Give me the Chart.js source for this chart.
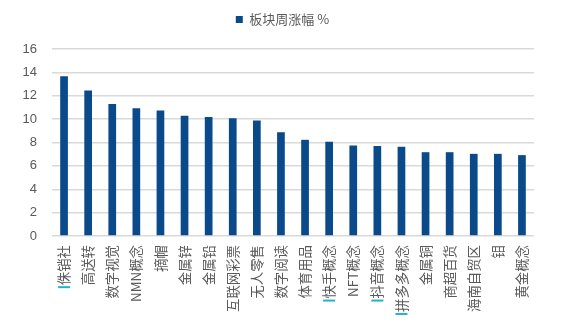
<!DOCTYPE html>
<html>
<head>
<meta charset="utf-8">
<script src="https://cdn.jsdelivr.net/npm/chart.js@4.4.0/dist/chart.umd.min.js"></script>
<style>
html,body{margin:0;padding:0;background:#fff;}
#wrap{width:565px;height:328px;position:relative;}
</style>
</head>
<body>
<div id="wrap"><canvas id="c" width="565" height="328"></canvas></div>
<script>
const categories = ["侏销社","高送转","数字视觉","NMN概念","摘帽","金属锌","金属铅","互联网彩票","无人零售","数字阅读","体育用品","快手概念","NFT概念","抖音概念","拼多多概念","金属铜","商超百货","海南自贸区","钼","黄金概念"];
const weeklyGain = [13.66,12.44,11.30,10.93,10.73,10.28,10.19,10.08,9.88,8.88,8.23,8.06,7.74,7.69,7.63,7.17,7.17,7.03,7.03,6.92];
const seriesName = "板块周涨幅 %";
const yTicks = [0,2,4,6,8,10,12,14,16];
const markedLabels = [0,11,13,14];

const grey = "#595959";
const cjk = "'Noto Sans CJK SC', 'Liberation Sans', sans-serif";
const labelSize = 13.4;

const legendSpace = {
  id: 'legendSpace',
  beforeLayout(chart) {
    const l = chart.legend;
    if (l && !l._patched) {
      const f = l.fit.bind(l);
      l.fit = function () { f(); this.height += 13; };
      l._patched = true;
    }
  },
  afterLayout(chart) {
    const l = chart.legend;
    if (l) {
      const shift = chart.width / 2 - (l.left + l.right) / 2;
      l.left += shift;
      l.right += shift;
    }
  }
};

const cursorMarks = {
  id: 'cursorMarks',
  afterDraw(chart) {
    const ctx = chart.ctx;
    const xs = chart.scales.x;
    ctx.save();
    ctx.font = labelSize + "px " + cjk;
    ctx.strokeStyle = "#1fb3c9";
    ctx.lineWidth = 2;
    markedLabels.forEach(i => {
      const w = ctx.measureText(categories[i]).width;
      const cx = xs.getPixelForValue(i);
      const y = xs.top + 9 + w + 2;
      ctx.beginPath();
      ctx.moveTo(cx - 6, y);
      ctx.lineTo(cx + 6, y);
      ctx.stroke();
    });
    ctx.restore();
  }
};

new Chart(document.getElementById('c'), {
  type: 'bar',
  data: {
    labels: categories,
    datasets: [{
      label: seriesName,
      data: weeklyGain,
      backgroundColor: "#0a4a8a",
      borderWidth: 0,
      categoryPercentage: 1,
      barPercentage: 0.32
    }]
  },
  options: {
    responsive: false,
    animation: false,
    devicePixelRatio: 1,
    layout: { padding: { top: 1, right: 31, left: 0, bottom: 0 } },
    plugins: {
      legend: {
        display: true,
        position: 'top',
        labels: {
          boxWidth: 7,
          boxHeight: 7,
          color: grey,
          font: { size: 13, family: cjk },
          padding: 12
        }
      },
      tooltip: { enabled: false }
    },
    scales: {
      x: {
        grid: { display: false, drawTicks: false },
        border: { display: false },
        ticks: {
          autoSkip: false,
          maxRotation: 90,
          minRotation: 90,
          padding: 9,
          color: grey,
          font: { size: labelSize, family: cjk }
        },
        afterFit(s) { s.height = 92; }
      },
      y: {
        min: 0,
        max: 16,
        afterBuildTicks(s) { s.ticks = yTicks.map(v => ({ value: v })); },
        grid: { color: "#d9d9d9", lineWidth: 1.5, drawTicks: false },
        border: { display: false },
        ticks: {
          padding: 15,
          color: grey,
          font: { size: 13, family: "'Liberation Sans', Arial, sans-serif" }
        },
        afterFit(s) { s.width = 52; }
      }
    }
  },
  plugins: [legendSpace, cursorMarks]
});
</script>
</body>
</html>
